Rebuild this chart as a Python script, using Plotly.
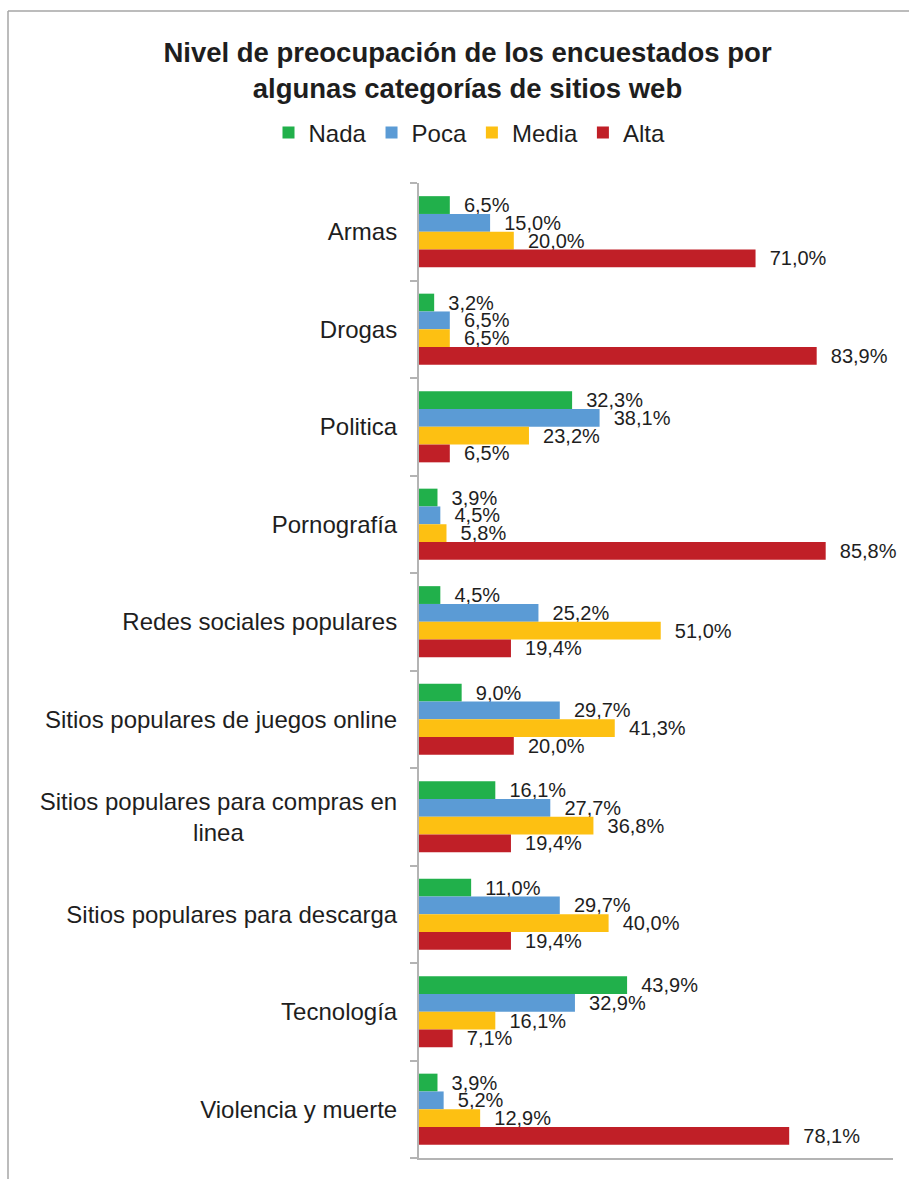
import plotly.graph_objects as go

categories = [
    "Armas",
    "Drogas",
    "Politica",
    "Pornografía",
    "Redes sociales populares",
    "Sitios populares de juegos online",
    "Sitios populares para compras en linea",
    "Sitios populares para descarga",
    "Tecnología",
    "Violencia y muerte",
]
tick_labels = [
    "Armas",
    "Drogas",
    "Politica",
    "Pornografía",
    "Redes sociales populares",
    "Sitios populares de juegos online",
    "Sitios populares para compras en<br>linea" + "\u00a0" * 23,
    "Sitios populares para descarga",
    "Tecnología",
    "Violencia y muerte",
]
nada = [6.5, 3.2, 32.3, 3.9, 4.5, 9.0, 16.1, 11.0, 43.9, 3.9]
poca = [15.0, 6.5, 38.1, 4.5, 25.2, 29.7, 27.7, 29.7, 32.9, 5.2]
media = [20.0, 6.5, 23.2, 5.8, 51.0, 41.3, 36.8, 40.0, 16.1, 12.9]
alta = [71.0, 83.9, 6.5, 85.8, 19.4, 20.0, 19.4, 19.4, 7.1, 78.1]

series = [
    ("Nada", nada, "#21B04B"),
    ("Poca", poca, "#5B9BD5"),
    ("Media", media, "#FDC012"),
    ("Alta", alta, "#C01F27"),
]

FONT = "Liberation Sans, Arial, sans-serif"
TXT = "#1E1E1E"
AX = "#B4B4B4"

fig = go.Figure()
for name, vals, col in series:
    fig.add_trace(go.Bar(
        name=name, y=categories, x=vals, orientation="h",
        marker=dict(color=col, line=dict(width=0)),
        texttemplate="\u00a0\u00a0%{x:.1f}%", textposition="outside",
        textfont=dict(family=FONT, size=20, color=TXT),
        constraintext="none", cliponaxis=False,
    ))

W, H = 909, 1179
L, R, T, B = 419, 16, 183, 21
pw, ph = W - L - R, H - T - B


def px(x):
    return (x - L) / pw


def py(y):
    return (H - B - y) / ph


fig.add_shape(type="line", xref="paper", yref="paper",
              x0=px(8), x1=px(8), y0=py(11), y1=py(1190),
              line=dict(color="#A6A6A6", width=1.5))
fig.add_shape(type="line", xref="paper", yref="paper",
              x0=px(8), x1=px(920), y0=py(11), y1=py(11),
              line=dict(color="#A6A6A6", width=1.5))

fig.update_layout(
    width=W, height=H, autosize=False,
    margin=dict(l=L, r=R, t=T, b=B),
    paper_bgcolor="white", plot_bgcolor="white",
    separators=",.",
    barmode="group", bargap=0.27, bargroupgap=0,
    font=dict(family=FONT, color=TXT),
    showlegend=True,
    title=dict(
        text="<b>Nivel de preocupación de los encuestados por<br>algunas categorías de sitios web</b>",
        font=dict(family=FONT, size=27.5, color=TXT),
        x=467.5 / W, xref="container", xanchor="center",
        y=1 - 62 / H, yref="container", yanchor="middle",
    ),
    legend=dict(
        orientation="h", xref="container", yref="container",
        x=469.5 / W, xanchor="center", y=1 - 133 / H, yanchor="middle",
        font=dict(family=FONT, size=24, color=TXT),
        traceorder="normal", itemwidth=30,
    ),
    xaxis=dict(range=[0, 100], showticklabels=False, showgrid=False,
               zeroline=False, showline=True, linecolor=AX, linewidth=2,
               ticks=""),
    yaxis=dict(type="category", autorange="reversed",
               tickmode="array", tickvals=categories, ticktext=tick_labels,
               ticks="outside", tickson="boundaries", ticklen=7,
               tickcolor=AX, tickwidth=2, showline=True, linecolor=AX,
               linewidth=2, showgrid=False, ticklabelstandoff=15,
               tickfont=dict(family=FONT, size=24, color=TXT)),
)

fig.write_html("out.html")
